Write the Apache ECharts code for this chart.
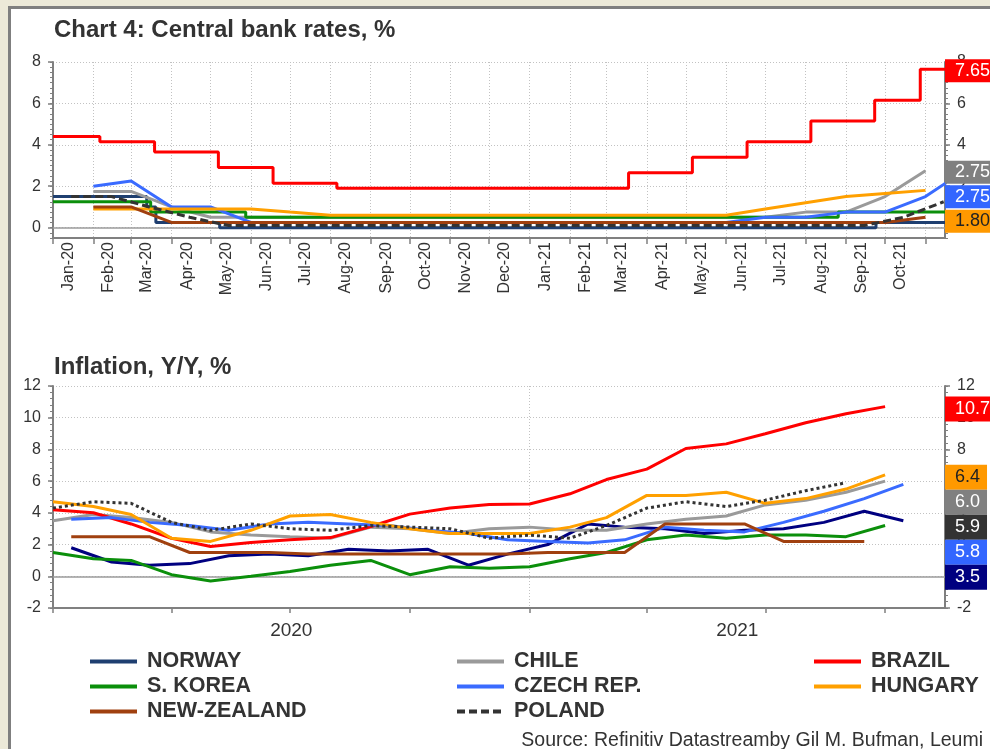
<!DOCTYPE html>
<html>
<head>
<meta charset="utf-8">
<script src="https://cdn.jsdelivr.net/npm/echarts@6/dist/echarts.min.js"></script>
<style>
html, body { margin: 0; padding: 0; width: 990px; height: 749px; overflow: hidden; background: #ece9d8; }
#frame { position: absolute; left: 8px; top: 6px; width: 1000px; height: 760px; background: #fff;
         border-top: 3px solid #7f7f7f; border-left: 3px solid #7f7f7f; }
#chart { position: absolute; left: 0; top: 0; width: 990px; height: 749px; }
</style>
</head>
<body>
<div id="frame"></div>
<div id="chart"></div>
<script>
// ---------- shared axis range ----------
const axisStart = '2020-01-01';
const axisEnd = '2021-11-16';

// ---------- Chart 4: central bank rates, % ----------
// step series: [date of change, rate]
const rateBrazil = [
  ['2020-01-01', 4.40], ['2020-02-06', 4.15], ['2020-03-19', 3.65], ['2020-05-07', 2.90],
  ['2020-06-18', 2.15], ['2020-08-06', 1.90], ['2021-03-18', 2.65], ['2021-05-06', 3.40],
  ['2021-06-17', 4.15], ['2021-08-05', 5.15], ['2021-09-23', 6.15], ['2021-10-28', 7.65],
  ['2021-11-16', 7.65]
];
const rateNorway = [
  ['2020-01-01', 1.5], ['2020-03-13', 1.0], ['2020-03-20', 0.25], ['2020-05-08', 0],
  ['2021-09-24', 0.25], ['2021-11-16', 0.25]
];
const rateKorea = [
  ['2020-01-01', 1.25], ['2020-03-16', 0.75], ['2020-05-28', 0.5], ['2021-08-26', 0.75],
  ['2021-11-16', 0.75]
];
// monthly series: first month, then one value per month
const rateChileStart = '2020-02-01';
const rateChile = [1.75, 1.75, 1.0, 0.5, 0.5, 0.5, 0.5, 0.5, 0.5, 0.5, 0.5,
                   0.5, 0.5, 0.5, 0.5, 0.5, 0.5, 0.5, 0.75, 0.75, 1.5, 2.75];
const rateCzechStart = '2020-02-01';
const rateCzech = [2.0, 2.25, 1.0, 1.0, 0.25, 0.25, 0.25, 0.25, 0.25, 0.25, 0.25,
                   0.25, 0.25, 0.25, 0.25, 0.25, 0.25, 0.5, 0.5, 0.75, 0.75, 1.5, 2.75];
const rateHungaryStart = '2020-02-01';
const rateHungary = [0.9, 0.9, 0.9, 0.9, 0.9, 0.75, 0.6, 0.6, 0.6, 0.6, 0.6,
                     0.6, 0.6, 0.6, 0.6, 0.6, 0.6, 0.9, 1.2, 1.5, 1.65, 1.8];
const rateNZStart = '2020-02-01';
const rateNZ = [1.0, 1.0, 0.25, 0.25, 0.25, 0.25, 0.25, 0.25, 0.25, 0.25, 0.25,
                0.25, 0.25, 0.25, 0.25, 0.25, 0.25, 0.25, 0.25, 0.25, 0.25, 0.5];
const ratePolandStart = '2020-01-15';
const ratePoland = [1.5, 1.5, 1.0, 0.5, 0.1, 0.1, 0.1, 0.1, 0.1, 0.1, 0.1, 0.1,
                    0.1, 0.1, 0.1, 0.1, 0.1, 0.1, 0.1, 0.1, 0.1, 0.5, 1.25];

const rateMonthLabels = ['Jan-20', 'Feb-20', 'Mar-20', 'Apr-20', 'May-20', 'Jun-20', 'Jul-20',
  'Aug-20', 'Sep-20', 'Oct-20', 'Nov-20', 'Dec-20', 'Jan-21', 'Feb-21', 'Mar-21', 'Apr-21',
  'May-21', 'Jun-21', 'Jul-21', 'Aug-21', 'Sep-21', 'Oct-21'];
const rateTickMonths = rateMonthLabels.concat(['Nov-21']);
const rateYTicks = [0, 2, 4, 6, 8];

// ---------- Inflation, Y/Y, % (monthly) ----------
const inflBrazilStart = '2020-01-01';
const inflBrazil = [4.19, 4.01, 3.30, 2.40, 1.88, 2.13, 2.31, 2.44, 3.14, 3.92, 4.31, 4.52,
                    4.56, 5.20, 6.10, 6.76, 8.06, 8.35, 8.99, 9.68, 10.25, 10.7];
const inflChileStart = '2020-01-01';
const inflChile = [3.5, 3.9, 3.7, 3.4, 2.8, 2.6, 2.5, 2.4, 3.1, 3.0, 2.7, 3.0,
                   3.1, 2.9, 2.9, 3.3, 3.6, 3.8, 4.5, 4.8, 5.3, 6.0];
const inflHungaryStart = '2020-01-01';
const inflHungary = [4.7, 4.4, 3.9, 2.4, 2.2, 2.9, 3.8, 3.9, 3.4, 3.0, 2.7, 2.7,
                     2.7, 3.1, 3.7, 5.1, 5.1, 5.3, 4.6, 4.9, 5.5, 6.4];
const inflKoreaStart = '2020-01-01';
const inflKorea = [1.5, 1.1, 1.0, 0.1, -0.3, 0.0, 0.3, 0.7, 1.0, 0.1, 0.6, 0.5,
                   0.6, 1.1, 1.5, 2.3, 2.6, 2.4, 2.6, 2.6, 2.5, 3.2];
const inflPolandStart = '2020-01-01';
const inflPoland = [4.3, 4.7, 4.6, 3.4, 2.9, 3.3, 3.0, 2.9, 3.2, 3.1, 3.0, 2.4,
                    2.6, 2.4, 3.2, 4.3, 4.7, 4.4, 4.8, 5.4, 5.9];
const inflNorwayStart = '2020-01-15';
const inflNorway = [1.8, 0.9, 0.7, 0.8, 1.3, 1.4, 1.3, 1.7, 1.6, 1.7, 0.7, 1.4,
                    2.0, 3.3, 3.1, 3.0, 2.7, 2.9, 3.0, 3.4, 4.1, 3.5];
const inflCzechStart = '2020-01-15';
const inflCzech = [3.6, 3.7, 3.4, 3.2, 2.9, 3.3, 3.4, 3.3, 3.2, 2.9, 2.7, 2.3,
                   2.2, 2.1, 2.3, 3.1, 2.9, 2.8, 3.4, 4.1, 4.9, 5.8];
const inflNZStart = '2020-01-15';
const inflNZ = [2.5, 2.5, 2.5, 1.5, 1.5, 1.5, 1.4, 1.4, 1.4, 1.4, 1.4, 1.4,
                1.5, 1.5, 1.5, 3.3, 3.3, 3.3, 2.2, 2.2, 2.2];

const inflQuarterTicks = ['Jan-20', 'Apr-20', 'Jul-20', 'Oct-20', 'Jan-21', 'Apr-21', 'Jul-21', 'Oct-21'];
const inflYearLabels = ['2020', '2021'];
const inflYTicks = [-2, 0, 2, 4, 6, 8, 10, 12];

// ---------- styling ----------
const FONT = '"Liberation Sans", Arial, sans-serif';
const TEXT = '#333333';
const AXIS = '#808080';
const GRID_LINE = '#c2c2c2';
const colors = {
  NORWAY: '#1f3f70', NORWAY_INFL: '#000080', CHILE: '#9a9a9a', BRAZIL: '#ff0000',
  KOREA: '#0b8f0b', CZECH: '#3a6bff', HUNGARY: '#ffa000', NZ: '#a0400f', POLAND: '#333333'
};

// ---------- helpers (dates are kept as millisecond timestamps) ----------
const MONTHS = ['Jan', 'Feb', 'Mar', 'Apr', 'May', 'Jun', 'Jul', 'Aug', 'Sep', 'Oct', 'Nov', 'Dec'];
function parseDay(s) { const p = s.split('-').map(Number); return new Date(p[0], p[1] - 1, p[2]); }
function monthLabelDate(lbl, day) {
  const [m, y] = lbl.split('-');
  return new Date(2000 + Number(y), MONTHS.indexOf(m), day).getTime();
}
function monthly(start, values) {
  const d = parseDay(start);
  return values.map((v, i) => [new Date(d.getFullYear(), d.getMonth() + i, d.getDate()).getTime(), v]);
}
function dated(pairs) { return pairs.map(p => [parseDay(p[0]).getTime(), p[1]]); }
function fmtMonth(v) { const d = new Date(v); return MONTHS[d.getMonth()] + '-' + String(d.getFullYear()).slice(2); }

const tStart = parseDay(axisStart).getTime();
const tEnd = parseDay(axisEnd).getTime();

// month label positions sit a little right of each month-start tick
const rateTickValues = rateTickMonths.map(l => monthLabelDate(l, 1));
const rateLabelValues = rateMonthLabels.map(l => monthLabelDate(l, 13));
// year label sits at the middle of the visible part of that year
const inflYearValues = inflYearLabels.map(y => {
  const a = Math.max(new Date(Number(y), 0, 1).getTime(), tStart);
  const b = Math.min(new Date(Number(y) + 1, 0, 1).getTime(), tEnd);
  return (a + b) / 2;
});
const inflTickValues = inflQuarterTicks.map(l => monthLabelDate(l, 1));
const yearBoundary = [new Date(2021, 0, 1).getTime()];

// ---------- layout ----------
const gridRates = { left: 53, right: 45, top: 62, height: 176, outerBoundsMode: 'none' };
const gridInfl = { left: 53, right: 45, top: 386, height: 222, outerBoundsMode: 'none' };

const tickStyle = { color: AXIS, width: 1.5 };
const axisLineStyle = { color: AXIS, width: 2 };
const labelStyle = { fontSize: 16, color: TEXT, fontFamily: FONT };

function dateAxisHidden(gridIndex, extra) {
  return Object.assign({
    gridIndex, type: 'value', min: tStart, max: tEnd, position: 'bottom',
    axisLine: { show: true, onZero: true, lineStyle: { color: '#9c9c9c', width: 1.5 } },
    axisTick: { show: false }, axisLabel: { show: false }, splitLine: { show: false }
  }, extra || {});
}
function valueAxis(gridIndex, position, min, max, interval, ticks, withGrid) {
  return {
    gridIndex, type: 'value', position, min, max, interval,
    axisLine: { show: true, onZero: false, lineStyle: axisLineStyle },
    axisTick: { show: true, length: 5, customValues: ticks, lineStyle: tickStyle },
    axisLabel: Object.assign({ customValues: ticks, margin: 12 }, labelStyle),
    splitLine: { show: withGrid, lineStyle: { color: GRID_LINE, type: [1, 2], width: 1 } }
  };
}
function minorAxis(gridIndex, position, min, max, interval) {
  return {
    gridIndex, type: 'value', position, min, max, interval,
    axisLine: { show: false, onZero: false },
    axisTick: { show: true, length: 3, lineStyle: { color: AXIS, width: 1 } },
    axisLabel: { show: false }, splitLine: { show: false }
  };
}

const xAxis = [
  { // 0: monthly axis of the rates panel
    gridIndex: 0, type: 'value', min: tStart, max: tEnd, position: 'bottom',
    axisLine: { show: true, onZero: false, lineStyle: axisLineStyle },
    axisTick: { show: true, length: 6, customValues: rateTickValues, lineStyle: tickStyle },
    axisLabel: Object.assign({ customValues: rateLabelValues, rotate: 90, margin: 4, formatter: fmtMonth }, labelStyle),
    splitLine: { show: true, lineStyle: { color: GRID_LINE, type: [1, 2], width: 1 } }
  },
  dateAxisHidden(0), // 1: zero line of the rates panel
  { // 2: quarterly axis of the inflation panel
    gridIndex: 1, type: 'value', min: tStart, max: tEnd, position: 'bottom',
    axisLine: { show: true, onZero: false, lineStyle: axisLineStyle },
    axisTick: { show: true, length: 5, customValues: inflTickValues, lineStyle: tickStyle },
    axisLabel: { customValues: inflYearValues, margin: 13, fontSize: 19, color: TEXT, fontFamily: FONT,
                 formatter: v => String(new Date(v).getFullYear()) },
    splitLine: { show: false }
  },
  dateAxisHidden(1, { // 3: zero line + year divider of the inflation panel
    axisTick: { show: false, customValues: yearBoundary },
    splitLine: { show: true, lineStyle: { color: GRID_LINE, type: [1, 2], width: 1 } }
  })
];

const yAxis = [
  valueAxis(0, 'left', -0.5, 8, 0.5, rateYTicks, true),      // 0
  valueAxis(0, 'right', -0.5, 8, 0.5, rateYTicks, false),    // 1
  minorAxis(0, 'left', -0.5, 8, 0.25),                        // 2
  minorAxis(0, 'right', -0.5, 8, 0.25),                       // 3
  valueAxis(1, 'left', -2, 12, 2, inflYTicks, true),          // 4
  valueAxis(1, 'right', -2, 12, 2, inflYTicks, false),        // 5
  minorAxis(1, 'left', -2, 12, 0.4),                          // 6
  minorAxis(1, 'right', -2, 12, 0.4)                          // 7
];

function line(name, data, color, opts) {
  return Object.assign({
    name, type: 'line', data, symbol: 'none', color, clip: true,
    lineStyle: { color, width: 3 }, emphasis: { disabled: true }
  }, opts || {});
}
const onRates = { xAxisIndex: 0, yAxisIndex: 0 };
const onInfl = { xAxisIndex: 2, yAxisIndex: 4 };

const series = [
  line('NORWAY', dated(rateNorway), colors.NORWAY, Object.assign({ step: 'end' }, onRates)),
  line('CHILE', monthly(rateChileStart, rateChile), colors.CHILE, onRates),
  line('BRAZIL', dated(rateBrazil), colors.BRAZIL, Object.assign({ step: 'end' }, onRates)),
  line('S. KOREA', dated(rateKorea), colors.KOREA, Object.assign({ step: 'end' }, onRates)),
  line('CZECH REP.', monthly(rateCzechStart, rateCzech), colors.CZECH, onRates),
  line('HUNGARY', monthly(rateHungaryStart, rateHungary), colors.HUNGARY, onRates),
  line('NEW-ZEALAND', monthly(rateNZStart, rateNZ), colors.NZ, onRates),
  line('POLAND', monthly(ratePolandStart, ratePoland), colors.POLAND,
       Object.assign({ lineStyle: { color: colors.POLAND, width: 3, type: [8, 4] } }, onRates)),

  line('NORWAY', monthly(inflNorwayStart, inflNorway), colors.NORWAY_INFL, onInfl),
  line('CHILE', monthly(inflChileStart, inflChile), colors.CHILE, onInfl),
  line('BRAZIL', monthly(inflBrazilStart, inflBrazil), colors.BRAZIL, onInfl),
  line('S. KOREA', monthly(inflKoreaStart, inflKorea), colors.KOREA, onInfl),
  line('CZECH REP.', monthly(inflCzechStart, inflCzech), colors.CZECH, onInfl),
  line('HUNGARY', monthly(inflHungaryStart, inflHungary), colors.HUNGARY, onInfl),
  line('NEW-ZEALAND', monthly(inflNZStart, inflNZ), colors.NZ, onInfl),
  line('POLAND', monthly(inflPolandStart, inflPoland), colors.POLAND,
       Object.assign({ lineStyle: { color: colors.POLAND, width: 3, type: [3, 3] } }, onInfl))
];

function legendColumn(names, left) {
  return {
    data: names, left, top: 649, orient: 'vertical', padding: 0, itemGap: 0,
    itemWidth: 47, itemHeight: 14, selectedMode: false,
    itemStyle: { opacity: 0 },
    lineStyle: { width: 4 },
    textStyle: { fontFamily: FONT, fontWeight: 'bold', fontSize: 21.5, color: TEXT,
                 lineHeight: 25, padding: [0, 0, 0, 5] }
  };
}

const option = {
  animation: false,
  backgroundColor: 'transparent',
  title: [
    { text: 'Chart 4: Central bank rates, %', left: 54, top: 18, padding: 0,
      textStyle: { fontSize: 24, fontWeight: 'bold', color: TEXT, fontFamily: FONT } },
    { text: 'Inflation, Y/Y, %', left: 54, top: 355, padding: 0,
      textStyle: { fontSize: 24, fontWeight: 'bold', color: TEXT, fontFamily: FONT } }
  ],
  grid: [gridRates, gridInfl],
  xAxis, yAxis, series,
  legend: [
    legendColumn(['NORWAY', 'S. KOREA', 'NEW-ZEALAND'], 88),
    legendColumn(['CHILE', 'CZECH REP.', 'POLAND'], 455),
    legendColumn(['BRAZIL', 'HUNGARY'], 812)
  ]
};

const chart = echarts.init(document.getElementById('chart'), null, { renderer: 'canvas' });
chart.setOption(option);

// ---------- latest-value tags on the right-hand axes ----------
function lastValue(arr) { const v = arr[arr.length - 1]; return Array.isArray(v) ? v[1] : v; }
const rateTags = [
  { value: lastValue(rateBrazil), bg: colors.BRAZIL, fg: '#fff' },
  { value: lastValue(rateChile), bg: '#808080', fg: '#fff' },
  { value: lastValue(rateCzech), bg: '#3366ff', fg: '#fff' },
  { value: lastValue(rateHungary), bg: '#ff9900', fg: '#222' }
];
const inflTags = [
  { value: lastValue(inflBrazil), bg: colors.BRAZIL, fg: '#fff' },
  { value: lastValue(inflHungary), bg: '#ff9900', fg: '#222' },
  { value: lastValue(inflChile), bg: '#808080', fg: '#fff' },
  { value: lastValue(inflPoland), bg: '#333333', fg: '#fff' },
  { value: lastValue(inflCzech), bg: '#3366ff', fg: '#fff' },
  { value: lastValue(inflNorway), bg: '#000080', fg: '#fff' }
];

function buildTags(tags, xAxisIndex, yAxisIndex, h, gap, dy, digits) {
  const x = chart.convertToPixel({ xAxisIndex }, tEnd);
  const items = tags.map(t => Object.assign({ y: chart.convertToPixel({ yAxisIndex }, t.value) + dy }, t));
  items.sort((a, b) => b.value - a.value);
  let prevBottom = -Infinity;
  return items.map(t => {
    const topY = Math.max(t.y - h / 2, prevBottom + gap);
    prevBottom = topY + h;
    return {
      type: 'text', x: x, y: topY, z: 100,
      style: {
        text: t.value.toFixed(digits), fill: t.fg, backgroundColor: t.bg,
        fontSize: 18, fontFamily: FONT, lineHeight: h, padding: [0, 7, 0, 10],
        verticalAlign: 'top', align: 'left'
      }
    };
  });
}

const graphics = buildTags(rateTags, 0, 0, 23, 1.5, 1.5, 2)
  .concat(buildTags(inflTags, 2, 4, 25, 0, 2.5, 1))
  .concat([{
    type: 'text', right: 7, top: 731, z: 100,
    style: { text: 'Source: Refinitiv Datastreamby Gil M. Bufman, Leumi', fill: TEXT,
             fontSize: 19.5, fontFamily: FONT }
  }]);
chart.setOption({ graphic: graphics });
</script>
</body>
</html>
